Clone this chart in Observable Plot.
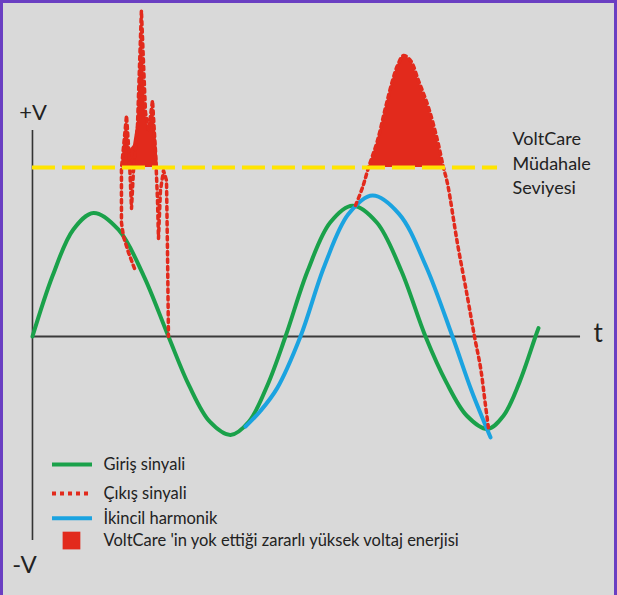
<!DOCTYPE html>
<html>
<head>
<meta charset="utf-8">
<script src="https://cdn.jsdelivr.net/npm/d3@7"></script>
<script src="https://cdn.jsdelivr.net/npm/@observablehq/plot@0.6"></script>
<style>
  html, body { margin: 0; padding: 0; background: #d9d9d9; }
  #wrap { position: relative; width: 617px; height: 595px; overflow: hidden; }
  #border { position: absolute; left: 0; top: 0; width: 617px; height: 595px; box-sizing: border-box;
            border-top: 3px solid #6a3fc2; border-left: 3px solid #6a3fc2; border-right: 3px solid #6a3fc2; pointer-events: none; }
</style>
</head>
<body>
<div id="wrap"><div id="chart"></div><div id="border"></div></div>
<script>
// ---- data (time in degrees, voltage in relative units) ----
const inputT = [0, 28.9, 57.9, 86.8, 122.4, 157.9, 193.5, 222.9, 252.3, 281.7, 307.8, 334.0, 360.0,
                391.7, 423.6, 455.3, 489.9, 524.6, 559.2, 588.7, 618.0, 647.4, 670.2, 693.0, 715.7, 720.0];
const inputV = [0, 0.51, 0.89, 1.03, 0.89, 0.51, 0, -0.41, -0.71, -0.82, -0.71, -0.41, 0,
                0.55, 0.95, 1.09, 0.95, 0.55, 0, -0.38, -0.66, -0.77, -0.66, -0.38, 0, 0.07];

const harmonicT = [303.1, 324.4, 348.2, 381.3, 415.5, 449.6, 483.8, 521.8, 559.6, 597.6, 624.6, 651.7];
const harmonicV = [-0.75, -0.62, -0.43, 0, 0.59, 1.02, 1.175, 1.02, 0.59, 0, -0.45, -0.84];

const outputTransientT = [145.1, 136.6, 129.5, 126.6, 126.6, 126.6, 133.8, 138.0, 140.9, 143.7, 149.4, 155.0,
                          160.8, 165.1, 170.8, 175.0, 177.9, 179.3, 182.1, 186.4, 190.7, 192.1, 193.5];
const outputTransientV = [0.567, 0.70, 0.833, 0.95, 1.175, 1.40, 1.842, 1.467, 1.067, 1.383, 1.758, 2.717,
                          1.867, 1.717, 1.967, 1.55, 1.133, 0.817, 1.217, 1.383, 1.30, 0.717, 0];

const outputSurgeT = [459.6, 469.6, 478.1, 490.9, 502.3, 512.3, 519.4, 527.9, 537.9, 549.2, 563.5, 576.3, 584.8,
                      590.5, 604.7, 619.0, 628.9, 637.5, 644.6, 648.9];
const outputSurgeV = [1.092, 1.242, 1.408, 1.633, 1.908, 2.133, 2.258, 2.342, 2.30, 2.133, 1.908, 1.633, 1.408,
                      1.275, 0.775, 0.325, 0, -0.258, -0.575, -0.767];

const clippedTransientT = [126.6, 133.8, 138.0, 143.7, 149.4, 155.0, 160.8, 165.1, 170.8, 176.4, 179.3];
const clippedTransientV = [1.408, 1.842, 1.55, 1.592, 1.80, 2.717, 1.867, 1.717, 1.967, 1.633, 1.408];

const clippedSurgeT = [478.1, 490.9, 502.3, 512.3, 519.4, 527.9, 537.9, 549.2, 563.5, 576.3, 584.8];
const clippedSurgeV = [1.408, 1.633, 1.908, 2.133, 2.258, 2.342, 2.30, 2.133, 1.908, 1.633, 1.408];

const threshold = 1.408;
const thresholdEnd = 661.7;
const timeAxisEnd = 779.8;
const voltAxisTop = 1.717, voltAxisBottom = -1.70;

const thresholdLabel = ["VoltCare", "Müdahale", "Seviyesi"];
const legendLabels = ["Giriş sinyali", "Çıkış sinyali", "İkincil harmonik", "VoltCare 'in yok ettiği zararlı yüksek voltaj enerjisi"];

// ---- build tables ----
const zip = (ts, vs) => ts.map((t, i) => ({t, v: vs[i]}));
const input = zip(inputT, inputV);
const harmonic = zip(harmonicT, harmonicV);
const outTransient = zip(outputTransientT, outputTransientV);
const outSurge = zip(outputSurgeT, outputSurgeV);
const clipTransient = zip(clippedTransientT, clippedTransientV);
const clipSurge = zip(clippedSurgeT, clippedSurgeV);

const GREEN = "#1aa14a", BLUE = "#1ba3e0", RED = "#e22a1c", YELLOW = "#ffe400", INK = "#222";

// legend layout (in chart units)
const legX1 = 28.5, legX2 = 85.4, legTextX = 101, legSwatchX = 55.5;
const legY = [-1.067, -1.308, -1.515, -1.70];
const labelX = 683, labelY = [1.642, 1.433, 1.233];

const chart = Plot.plot({
  width: 617, height: 595,
  marginTop: 0, marginRight: 0, marginBottom: 0, marginLeft: 0,
  x: {domain: [-45.5, 832.4], axis: null},
  y: {domain: [-2.158, 2.8], axis: null},
  style: {background: "#d9d9d9", fontFamily: "Lato, 'Open Sans', sans-serif"},
  marks: [
    // axes
    Plot.ruleX([0], {y1: voltAxisBottom, y2: voltAxisTop, stroke: "#333", strokeWidth: 1.6}),
    Plot.ruleY([0], {x1: 0, x2: timeAxisEnd, stroke: "#3a3a3a", strokeWidth: 2}),
    // clipped energy
    Plot.areaY(clipTransient, {x: "t", y1: threshold, y2: "v", fill: RED, curve: "linear"}),
    Plot.areaY(clipSurge, {x: "t", y1: threshold, y2: "v", fill: RED, curve: "catmull-rom"}),
    // input
    Plot.line(input, {x: "t", y: "v", stroke: GREEN, strokeWidth: 4, curve: "catmull-rom"}),
    // harmonic
    Plot.line(harmonic, {x: "t", y: "v", stroke: BLUE, strokeWidth: 4, curve: "catmull-rom"}),
    // output dotted
    Plot.line(outTransient, {x: "t", y: "v", stroke: RED, strokeWidth: 3.5, strokeDasharray: "3.5,4", curve: "linear"}),
    Plot.line(outSurge, {x: "t", y: "v", stroke: RED, strokeWidth: 3.5, strokeDasharray: "3.5,4", curve: "catmull-rom"}),
    // threshold
    Plot.ruleY([threshold], {x1: 0, x2: thresholdEnd, stroke: YELLOW, strokeWidth: 4, strokeDasharray: "23,7"}),
    // axis labels
    Plot.text(["+V"], {x: 0.7, y: 1.867, text: d => d, fontSize: 22, fill: INK}),
    Plot.text(["-V"], {x: -11.4, y: -1.908, text: d => d, fontSize: 24, fill: INK}),
    Plot.text(["t"], {x: 805, y: 0.02, text: d => d, fontSize: 26, fill: INK}),
    // threshold label
    Plot.text(thresholdLabel, {x: labelX, y: (d, i) => labelY[i], text: d => d, textAnchor: "start", fontSize: 18, fill: INK}),
    // legend
    Plot.ruleY([legY[0]], {x1: legX1, x2: legX2, stroke: GREEN, strokeWidth: 4}),
    Plot.ruleY([legY[1]], {x1: legX1, x2: legX2, stroke: RED, strokeWidth: 4, strokeDasharray: "4,4"}),
    Plot.ruleY([legY[2]], {x1: legX1, x2: legX2, stroke: BLUE, strokeWidth: 4}),
    Plot.dot([0], {x: legSwatchX, y: legY[3], symbol: "square", r: 10, fill: RED, stroke: null}),
    Plot.text(legendLabels, {x: legTextX, y: (d, i) => legY[i], text: d => d, textAnchor: "start", fontSize: 16.5, fill: INK})
  ]
});
document.getElementById("chart").appendChild(chart);
</script>
</body>
</html>
